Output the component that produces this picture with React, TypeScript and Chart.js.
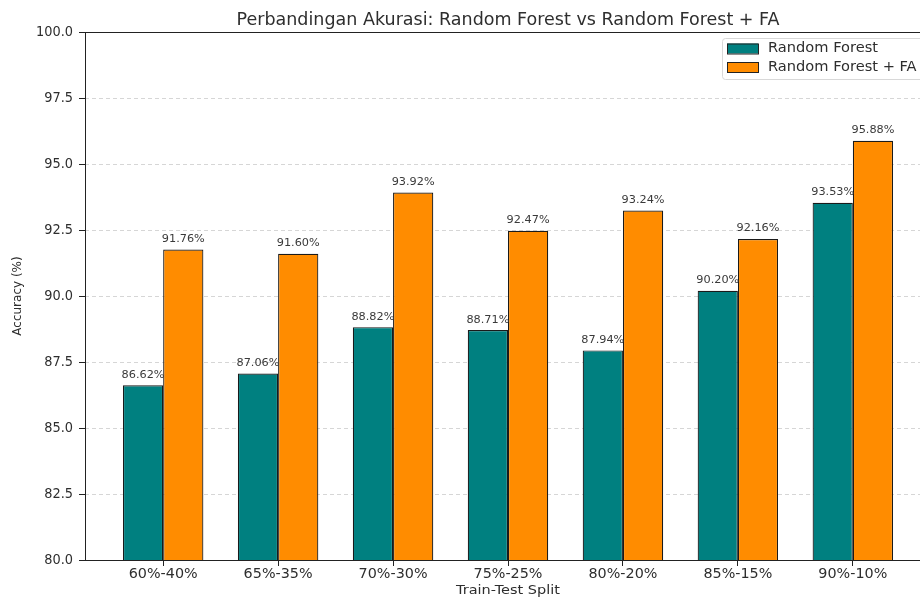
import React, { useEffect, useRef } from "react";
import { Chart, registerables } from "chart.js";

Chart.register(...registerables);

const categories = ["60%-40%", "65%-35%", "70%-30%", "75%-25%", "80%-20%", "85%-15%", "90%-10%"];
const rfValues = [86.62, 87.06, 88.82, 88.71, 87.94, 90.2, 93.53];
const rfFaValues = [91.76, 91.6, 93.92, 92.47, 93.24, 92.16, 95.88];
const seriesNames = ["Random Forest", "Random Forest + FA"];
const seriesColors = ["#008080", "#FF8C00"];
const yTicks = [80, 82.5, 85, 87.5, 90, 92.5, 95, 97.5, 100];
const titleText = "Perbandingan Akurasi: Random Forest vs Random Forest + FA";
const xTitle = "Train-Test Split";
const yTitle = "Accuracy (%)";

const FONT = '"DejaVu Sans", sans-serif';
const TEXT = "#2e2e2e";

function drawText(
  ctx: CanvasRenderingContext2D,
  text: string,
  x: number,
  y: number,
  size: number,
  sx: number,
  align: CanvasTextAlign,
  color: string,
  baseline: CanvasTextBaseline = "middle",
  rotate = 0
) {
  ctx.save();
  ctx.font = `${size}px ${FONT}`;
  ctx.fillStyle = color;
  ctx.textBaseline = baseline;
  ctx.textAlign = align;
  ctx.translate(x, y);
  if (rotate) ctx.rotate(rotate);
  ctx.scale(sx, 1);
  ctx.fillText(text, 0, 0);
  ctx.restore();
}

function scaleFor(ctx: CanvasRenderingContext2D, ref: string, size: number, width: number) {
  ctx.save();
  ctx.font = `${size}px ${FONT}`;
  const w = ctx.measureText(ref).width;
  ctx.restore();
  return width / w;
}

const textPlugin = {
  id: "customText",
  afterDatasetsDraw(chart: any) {
    const ctx: CanvasRenderingContext2D = chart.ctx;
    const { left, right, top, bottom } = chart.chartArea;
    ctx.save();
    ctx.strokeStyle = "#222";
    ctx.lineWidth = 1;
    ctx.strokeRect(Math.round(left) + 0.5, Math.round(top) + 0.5, Math.round(right - left), Math.round(bottom - top));
    ctx.restore();
  },
  afterDraw(chart: any) {
    const ctx: CanvasRenderingContext2D = chart.ctx;
    const xs = chart.scales.x;
    const ys = chart.scales.y;
    const { left, right, top, bottom } = chart.chartArea;

    // title
    const tS = scaleFor(ctx, titleText, 17, 543);
    drawText(ctx, titleText, (left + right) / 2, 24.5, 17, tS, "center", TEXT, "alphabetic");

    // y tick labels
    const ySx = scaleFor(ctx, "100.0", 13.5, 37);
    yTicks.forEach((v) => {
      drawText(ctx, v.toFixed(1), left - 12, ys.getPixelForValue(v) + 0.5, 13.5, ySx, "right", TEXT);
    });

    // x tick labels
    const xSx = scaleFor(ctx, "60%-40%", 13.5, 69);
    categories.forEach((c, i) => {
      drawText(ctx, c, xs.getPixelForValue(i), bottom + 14, 13.5, xSx, "center", TEXT);
    });

    // axis titles
    const xtS = scaleFor(ctx, xTitle, 12.5, 104);
    drawText(ctx, xTitle, (left + right) / 2, bottom + 31, 12.5, xtS, "center", TEXT);
    drawText(ctx, yTitle, 18, (top + bottom) / 2, 12, 1, "center", TEXT, "middle", -Math.PI / 2);

    // data labels
    const dSx = scaleFor(ctx, "91.76%", 10, 43);
    [rfValues, rfFaValues].forEach((vals, d) => {
      const meta = chart.getDatasetMeta(d);
      meta.data.forEach((el: any, i: number) => {
        drawText(ctx, vals[i].toFixed(2) + "%", el.x, el.y - 7.5, 10, dSx, "center", "#3a3a3a", "alphabetic");
      });
    });

    // legend
    const lx = 722, ly = 38, lw = 201, lh = 41;
    ctx.save();
    ctx.fillStyle = "rgba(255,255,255,0.85)";
    ctx.strokeStyle = "#d8d8d8";
    ctx.lineWidth = 1;
    ctx.beginPath();
    (ctx as any).roundRect(lx + 0.5, ly + 0.5, lw, lh, 3);
    ctx.fill();
    ctx.stroke();
    ctx.restore();
    const lSx = scaleFor(ctx, "Random Forest", 13.5, 110);
    seriesNames.forEach((name, k) => {
      const cy = 48.5 + k * 18.5;
      ctx.save();
      ctx.fillStyle = seriesColors[k];
      ctx.strokeStyle = "#222";
      ctx.lineWidth = 1;
      ctx.fillRect(727, cy - 5, 31, 10);
      ctx.strokeRect(727.5, cy - 5 + 0.5, 31, 10);
      ctx.restore();
      drawText(ctx, name, 768, cy, 13.5, lSx, "left", TEXT);
    });
  },
};

export default function App() {
  const ref = useRef<HTMLCanvasElement>(null);
  useEffect(() => {
    if (!ref.current) return;
    const chart = new Chart(ref.current, {
      type: "bar",
      data: {
        datasets: [rfValues, rfFaValues].map((vals, d) => ({
          label: seriesNames[d],
          data: vals.map((v, i) => ({ x: i, y: v })),
          backgroundColor: seriesColors[d],
          borderColor: "#1a1a1a",
          borderWidth: 1.2,
          borderSkipped: false,
          categoryPercentage: 0.7,
          barPercentage: 1.0,
        })),
      },
      options: {
        animation: false,
        responsive: false,
        devicePixelRatio: 1,
        layout: { padding: { left: 0, right: 9, top: 32, bottom: 0 } },
        plugins: {
          legend: { display: false },
          title: { display: false },
          tooltip: { enabled: false },
        },
        scales: {
          x: {
            type: "linear",
            min: -0.68,
            max: 6.68,
            offset: false,
            afterBuildTicks: (scale: any) => {
              scale.ticks = categories.map((_, i) => ({ value: i }));
            },
            afterFit: (scale: any) => {
              scale.height = 39;
            },
            ticks: { display: false },
            grid: {
              offset: false,
              drawOnChartArea: false,
              drawTicks: true,
              tickLength: 6,
              tickColor: "#222",
            },
            border: { display: false },
          },
          y: {
            type: "linear",
            min: 80,
            max: 100,
            afterBuildTicks: (scale: any) => {
              scale.ticks = yTicks.map((v) => ({ value: v }));
            },
            afterFit: (scale: any) => {
              scale.width = 85;
            },
            ticks: { display: false },
            grid: {
              color: "#d6d6d6",
              lineWidth: 1,
              drawTicks: true,
              tickLength: 6,
              tickColor: "#222",
              tickBorderDash: [],
            },
            border: { display: false, dash: [4, 3] },
          },
        },
      } as any,
      plugins: [textPlugin],
    });
    return () => chart.destroy();
  }, []);
  return (
    <div style={{ position: "fixed", left: 0, top: 0, width: 920, height: 599, overflow: "hidden", background: "#fff" }}>
      <canvas ref={ref} width={940} height={599} style={{ width: 940, height: 599, display: "block" }} />
    </div>
  );
}
